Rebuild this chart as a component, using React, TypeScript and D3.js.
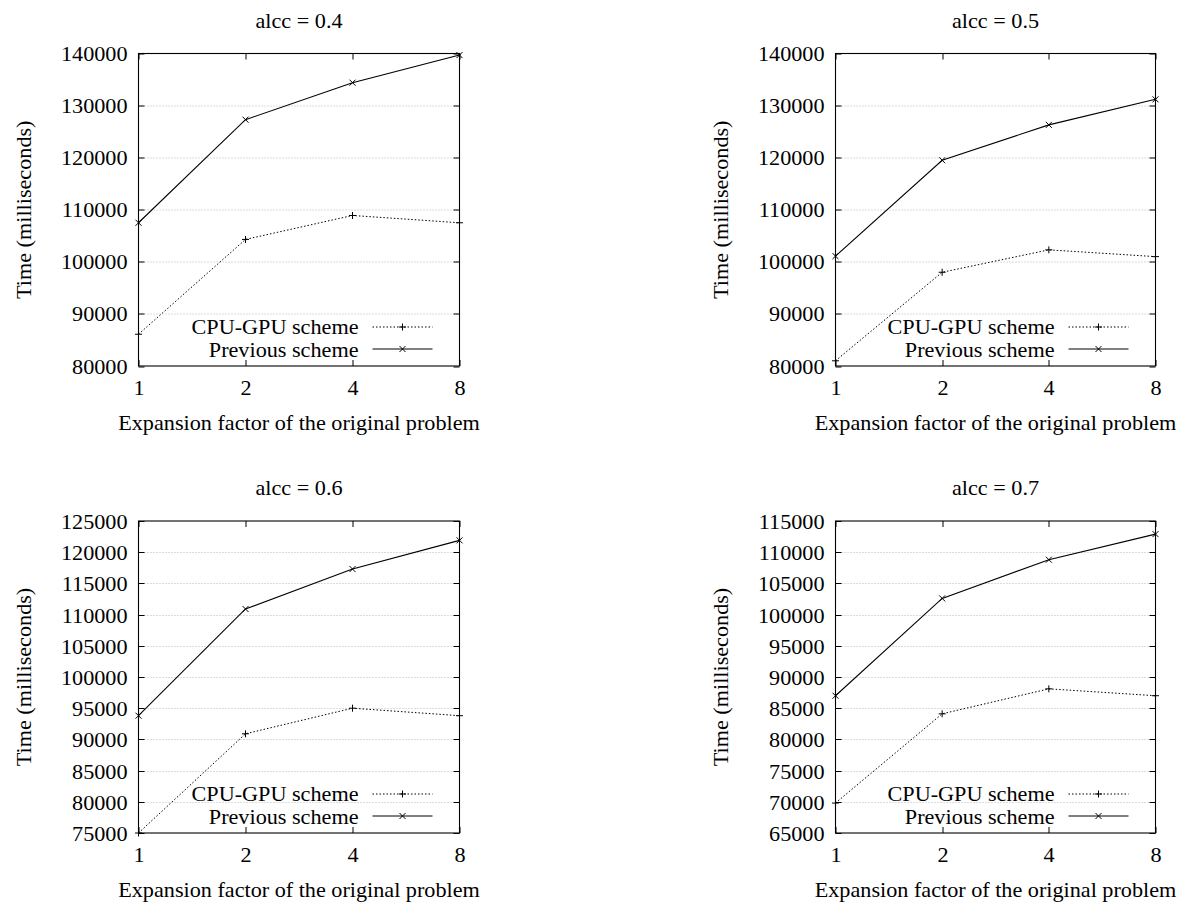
import React from "react";
import * as d3 from "d3";

// x positions (expansion factor)
const factors = [1, 2, 4, 8];
const seriesNames = ["CPU-GPU scheme", "Previous scheme"];
const titles = ["alcc = 0.4", "alcc = 0.5", "alcc = 0.6", "alcc = 0.7"];

// values (milliseconds)
const cpuGpu04 = [86100, 104300, 108900, 107500];
const previous04 = [107500, 127300, 134400, 139700];
const cpuGpu05 = [81000, 98000, 102300, 101000];
const previous05 = [101100, 119500, 126300, 131200];
const cpuGpu06 = [75000, 90900, 95000, 93800];
const previous06 = [93800, 110900, 117300, 121900];
const cpuGpu07 = [69800, 84100, 88100, 87000];
const previous07 = [87000, 102600, 108800, 112900];

const yTicks04 = [80000, 90000, 100000, 110000, 120000, 130000, 140000];
const yTicks05 = [80000, 90000, 100000, 110000, 120000, 130000, 140000];
const yTicks06 = [75000, 80000, 85000, 90000, 95000, 100000, 105000, 110000, 115000, 120000, 125000];
const yTicks07 = [65000, 70000, 75000, 80000, 85000, 90000, 95000, 100000, 105000, 110000, 115000];

const FONT = "'Liberation Serif', 'Times New Roman', 'DejaVu Serif', serif";
const SX = 1.11; // the source glyphs are a bit wider than tall

const Txt = ({ x, y, rot = 0, anchor = "middle", children }: any) => (
  <text
    transform={`translate(${x},${y}) rotate(${rot}) scale(${SX},1)`}
    textAnchor={anchor}
    fontFamily={FONT}
    fontSize={20}
    fill="#000"
  >
    {children}
  </text>
);

const plusPath = "M-3.5,0H3.5M0,-3.5V3.5";
const crossPath = "M-3,-3L3,3M-3,3L3,-3";

const Panel = ({ left, top, w, h, title, cpu, prev, ticks }: any) => {
  const x = d3.scaleLog().base(2).domain([1, 8]).range([0, w]);
  const y = d3
    .scaleLinear()
    .domain([ticks[0], ticks[ticks.length - 1]])
    .range([h, 0]);
  const line = d3
    .line<number>()
    .x((_, i) => x(factors[i]))
    .y((d) => y(d));
  const tick = 6;

  return (
    <g transform={`translate(${left},${top})`}>
      {/* grid */}
      {ticks.slice(1, -1).map((t: number) => (
        <line
          key={"g" + t}
          x1={0}
          x2={w}
          y1={Math.round(y(t)) + 0.5}
          y2={Math.round(y(t)) + 0.5}
          stroke="#b8b8b8"
          strokeDasharray="1,2"
        />
      ))}
      {/* y ticks, mirrored */}
      {ticks.map((t: number) => {
        const yy = Math.round(y(t)) + 0.5;
        return (
          <g key={"t" + t}>
            <line x1={0} x2={tick} y1={yy} y2={yy} stroke="#000" />
            <line x1={w - tick} x2={w} y1={yy} y2={yy} stroke="#000" />
            <Txt x={-11} y={yy + 7} anchor="end">
              {t}
            </Txt>
          </g>
        );
      })}
      {/* x ticks, mirrored */}
      {factors.map((f) => {
        const xx = Math.round(x(f)) + 0.5;
        return (
          <g key={"x" + f}>
            <line x1={xx} x2={xx} y1={h} y2={h - tick} stroke="#000" />
            <line x1={xx} x2={xx} y1={0} y2={tick} stroke="#000" />
            <Txt x={xx} y={h + 29}>
              {f}
            </Txt>
          </g>
        );
      })}
      {/* series */}
      <path d={line(cpu) || ""} fill="none" stroke="#000" strokeWidth={1} strokeDasharray="1.5,2" />
      <path d={line(prev) || ""} fill="none" stroke="#000" strokeWidth={1.1} />
      {cpu.map((v: number, i: number) => (
        <path key={"c" + i} d={plusPath} transform={`translate(${x(factors[i])},${y(v)})`} stroke="#000" />
      ))}
      {prev.map((v: number, i: number) => (
        <path key={"p" + i} d={crossPath} transform={`translate(${x(factors[i])},${y(v)})`} stroke="#000" />
      ))}
      {/* frame */}
      <rect x={0} y={0} width={w} height={h} fill="none" stroke="#000" strokeWidth={1.1} />
      {/* legend */}
      <Txt x={w - 101} y={h - 32} anchor="end">
        {seriesNames[0]}
      </Txt>
      <line x1={w - 87} x2={w - 27} y1={h - 39} y2={h - 39} stroke="#000" strokeDasharray="1.5,2" />
      <path d={plusPath} transform={`translate(${w - 57},${h - 39})`} stroke="#000" />
      <Txt x={w - 101} y={h - 9} anchor="end">
        {seriesNames[1]}
      </Txt>
      <line x1={w - 87} x2={w - 27} y1={h - 17} y2={h - 17} stroke="#000" />
      <path d={crossPath} transform={`translate(${w - 57},${h - 17})`} stroke="#000" />
      {/* titles */}
      <Txt x={w / 2} y={-26}>
        {title}
      </Txt>
      <Txt x={w / 2} y={h + 64}>
        Expansion factor of the original problem
      </Txt>
      <Txt x={-108} y={h / 2} rot={-90}>
        Time (milliseconds)
      </Txt>
    </g>
  );
};

export default function App() {
  return (
    <svg
      width={1185}
      height={905}
      style={{ position: "absolute", left: 0, top: 0, background: "#fff" }}
    >
      <Panel left={138.5} top={53.5} w={321} h={312.5} title={titles[0]} cpu={cpuGpu04} prev={previous04} ticks={yTicks04} />
      <Panel left={835.5} top={53.5} w={320} h={312.5} title={titles[1]} cpu={cpuGpu05} prev={previous05} ticks={yTicks05} />
      <Panel left={138.5} top={521} w={321} h={312} title={titles[2]} cpu={cpuGpu06} prev={previous06} ticks={yTicks06} />
      <Panel left={835.5} top={521} w={320} h={312} title={titles[3]} cpu={cpuGpu07} prev={previous07} ticks={yTicks07} />
    </svg>
  );
}
